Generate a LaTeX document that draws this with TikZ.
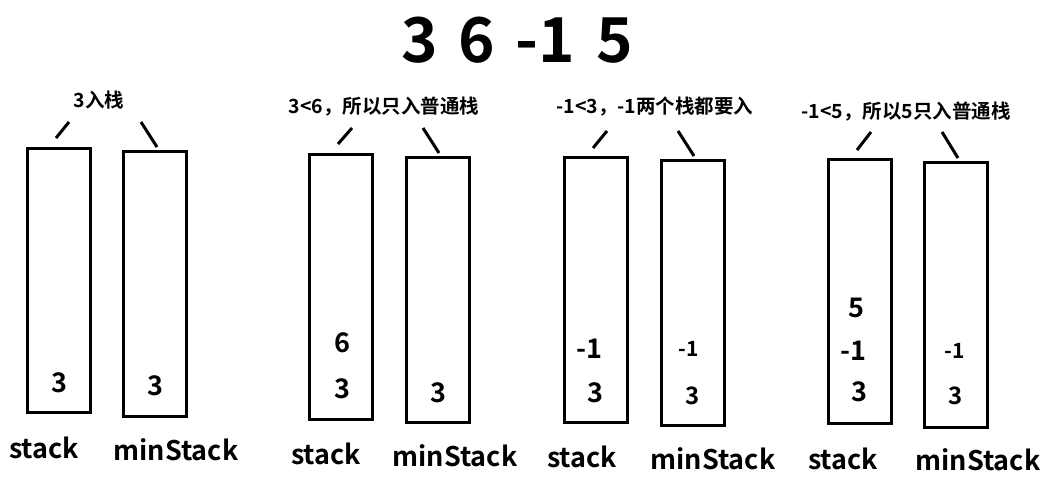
\documentclass[tikz,border=0pt]{standalone}
\usepackage{fontspec}
\setmainfont{Noto Sans CJK SC}[BoldFont={Noto Sans CJK SC Bold}]
\usetikzlibrary{positioning}

\tikzset{
  stackbox/.style={draw, line width=3pt, minimum width=63pt, minimum height=264pt, inner sep=0pt},
  val/.style={font=\fontsize{27}{27}\selectfont\bfseries, inner sep=0pt},
  lbl/.style={font=\fontsize{27}{27}\selectfont\bfseries, inner sep=0pt},
  note/.style={font=\fontsize{19.5}{19.5}\selectfont\bfseries, inner sep=0pt},
  tick/.style={line width=3pt}
}

\begin{document}
\begin{tikzpicture}[x=1pt, y=-1pt]

    \useasboundingbox (0,0) rectangle (1062,481);

    % title
    \node[font=\fontsize{62}{62}\selectfont\bfseries, inner sep=0pt] (title) at (517,40) {3\,\,6\,\,-1\,\,5};

    % push 3
    \node[stackbox] (s1) at (59,280.5) {};
    \node[stackbox] (m1) at (155,284) {};
    \node[note] (n1) at (99,100) {3入栈};
    \draw[tick] (56,138) -- (69,122);
    \draw[tick] (141,122) -- (157,147);
    \node[val] (s1a) at (59,383) {3};
    \node[val] (m1a) at (155,386) {3};
    \node[lbl] (ls1) at (44,448) {stack};
    \node[lbl] (lm1) at (176,450) {minStack};

    % push 6
    \node[stackbox] (s2) at (341,287) {};
    \node[stackbox] (m2) at (437.5,290) {};
    \node[note] (n2) at (384,107) {3<6，所以只入普通栈};
    \draw[tick] (338,144) -- (352,128);
    \draw[tick] (423,128) -- (439,153);
    \node[val] (s2a) at (342,389) {3};
    \node[val] (s2b) at (342,343) {6};
    \node[val] (m2a) at (438,393) {3};
    \node[lbl] (ls2) at (326,454) {stack};
    \node[lbl] (lm2) at (455,456) {minStack};

    % push -1
    \node[stackbox] (s3) at (596,290) {};
    \node[stackbox] (m3) at (692.5,293) {};
    \node[note] (n3) at (655,107) {-1<3，-1两个栈都要入};
    \draw[tick] (593,148) -- (607,131);
    \draw[tick] (678,131) -- (694,156);
    \node[val] (s3a) at (595,393) {3};
    \node[val] (s3b) at (589,349) {-1};
    \node[val, font=\fontsize{24}{24}\selectfont\bfseries] (m3a) at (693,396) {3};
    \node[val, font=\fontsize{21}{21}\selectfont\bfseries] (m3b) at (689,349) {-1};
    \node[lbl] (ls3) at (582,457) {stack};
    \node[lbl] (lm3) at (713,459) {minStack};

    % push 5
    \node[stackbox] (s4) at (860,291.5) {};
    \node[stackbox] (m4) at (956,295) {};
    \node[note] (n4) at (906,112) {-1<5，所以5只入普通栈};
    \draw[tick] (857,150) -- (871,132);
    \draw[tick] (942,132) -- (958,158);
    \node[val] (s4a) at (859,392) {3};
    \node[val] (s4b) at (853,351) {-1};
    \node[val] (s4c) at (856,308) {5};
    \node[val, font=\fontsize{24}{24}\selectfont\bfseries] (m4a) at (956,396) {3};
    \node[val, font=\fontsize{21}{21}\selectfont\bfseries] (m4b) at (955,351) {-1};
    \node[lbl] (ls4) at (843,459) {stack};
    \node[lbl] (lm4) at (978,460) {minStack};

\end{tikzpicture}
\end{document}
